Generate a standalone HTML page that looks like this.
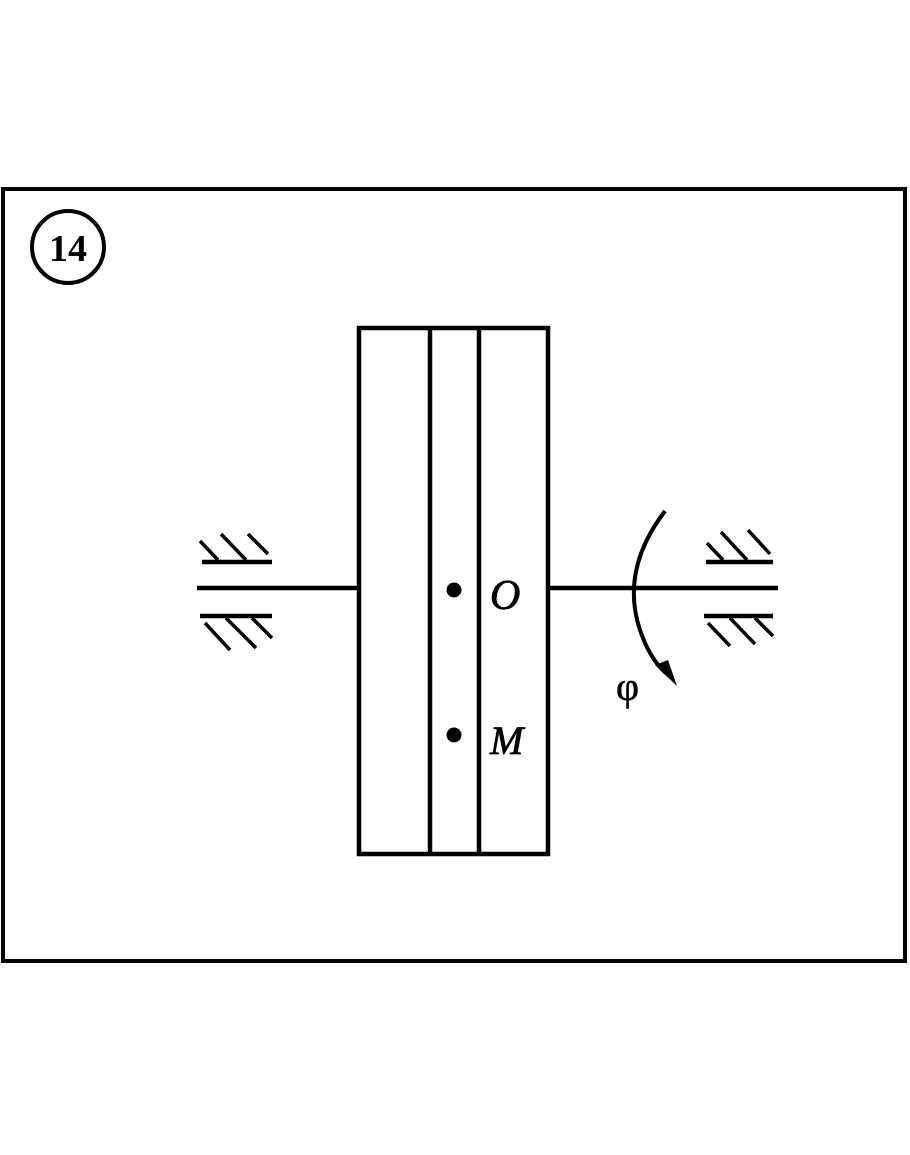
<!DOCTYPE html>
<html><head><style>body{margin:0;background:#fff}svg{display:block}</style></head>
<body>
<svg width="910" height="1155" viewBox="0 0 910 1155" xmlns="http://www.w3.org/2000/svg">
<rect x="0" y="0" width="910" height="1155" fill="#fff"/>
<rect x="3" y="189" width="902" height="772" fill="none" stroke="#000" stroke-width="4"/>
<circle cx="68" cy="247" r="36" fill="none" stroke="#000" stroke-width="4"/>
<text x="68" y="261" text-anchor="middle" font-family="Liberation Serif, serif" font-weight="bold" font-size="38">14</text>
<g stroke="#000" stroke-width="4.5" fill="none">
<rect x="359" y="328" width="189" height="526"/>
<line x1="430" y1="328" x2="430" y2="854"/>
<line x1="479" y1="328" x2="479" y2="854"/>
<line x1="197" y1="588" x2="359" y2="588"/>
<line x1="548" y1="588" x2="778" y2="588"/>
<line x1="202" y1="562" x2="272" y2="562"/>
<line x1="200" y1="616" x2="272" y2="616"/>
<line x1="706" y1="562" x2="773" y2="562"/>
<line x1="704" y1="616" x2="773" y2="616"/>
</g>
<g stroke="#000" stroke-width="3.5">
<line x1="200" y1="541" x2="218" y2="560"/><line x1="221" y1="534" x2="246" y2="560"/><line x1="248" y1="534" x2="268" y2="554"/>
<line x1="205" y1="623" x2="230" y2="650"/><line x1="226" y1="618" x2="256" y2="648"/><line x1="252" y1="618" x2="272" y2="638"/>
<line x1="707" y1="543" x2="723" y2="560"/><line x1="721" y1="532" x2="747" y2="560"/><line x1="748" y1="530" x2="770" y2="554"/>
<line x1="708" y1="623" x2="730" y2="646"/><line x1="730" y1="618" x2="755" y2="644"/><line x1="755" y1="618" x2="773" y2="636"/>
</g>
<path d="M665 511 Q620 570 640 630 Q650 660 668 675" fill="none" stroke="#000" stroke-width="4"/>
<polygon points="677,686 655,665 668,660" fill="#000"/>
<circle cx="454" cy="590" r="7.5" fill="#000"/>
<circle cx="454" cy="735" r="7.5" fill="#000"/>
<text x="490" y="609" font-family="Liberation Serif, serif" font-style="italic" font-size="42" stroke="#000" stroke-width="0.8">O</text>
<text x="490" y="754" font-family="Liberation Serif, serif" font-style="italic" font-size="40" stroke="#000" stroke-width="0.8">M</text>
<text x="616" y="700" font-family="Liberation Serif, serif" font-size="40" stroke="#000" stroke-width="0.6">φ</text>
</svg>
</body></html>
